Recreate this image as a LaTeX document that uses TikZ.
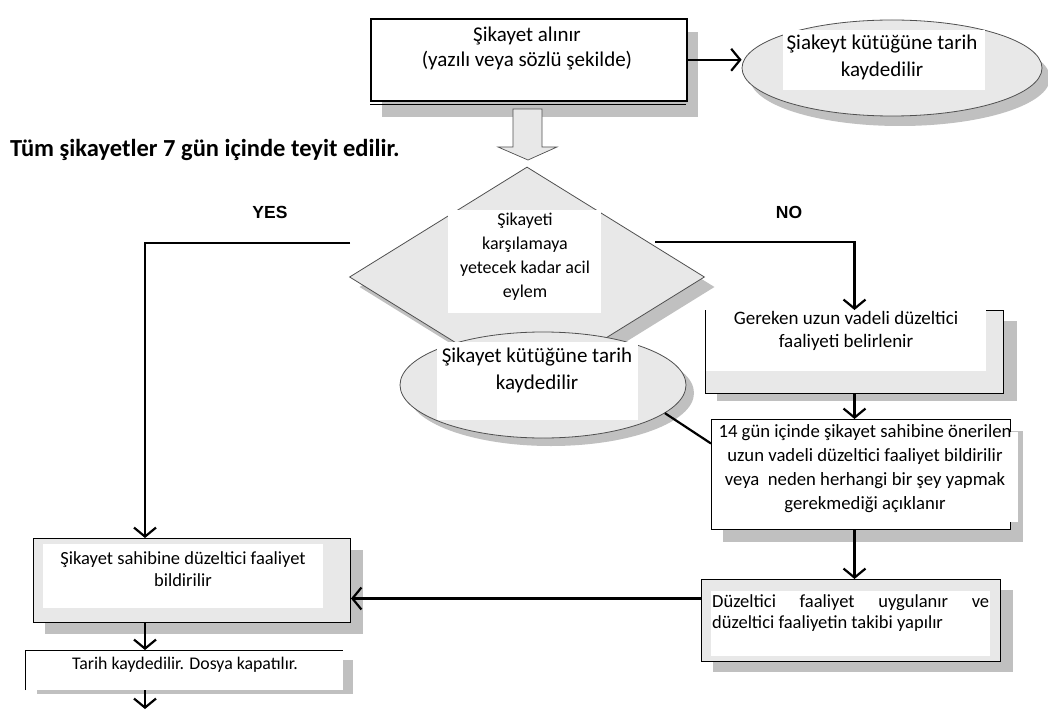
\documentclass[tikz,border=0pt]{standalone}
\usepackage{fontspec}
\setmainfont{Carlito}
\newfontfamily\arialf{Liberation Sans}
\usetikzlibrary{arrows.meta,shapes.geometric}
\definecolor{shd}{HTML}{C0C0C0}
\definecolor{lgr}{HTML}{E8E8E8}
\definecolor{edg}{HTML}{505050}
\begin{document}
\begin{tikzpicture}[x=1pt,y=-1pt,
  arr/.style={line width=2.2pt,-{Straight Barb[length=9pt,width=22pt,line width=2.2pt]}},
  conn/.style={line width=2.2pt},
  txt/.style={align=center,inner sep=0pt,font=\fontsize{21}{26}\selectfont},
  stxt/.style={align=center,inner sep=0pt,font=\fontsize{18.5}{22}\selectfont},
  box/.style={draw,line width=1pt,inner sep=0pt,anchor=north west},
  shadowfill/.style={fill=shd},
  ell/.style={ellipse,draw=edg,line width=0.8pt,fill=lgr,inner sep=0pt},
  lbl/.style={font=\arialf\bfseries\fontsize{17.5}{19}\selectfont,inner sep=0pt}]
\useasboundingbox[fill=white] (0,0) rectangle (1048,711);

% --- top box
\fill[shadowfill] (382,32) rectangle (698,117);
\node[box,line width=1.6pt,fill=white,minimum width=316pt,minimum height=82pt] (recv) at (370,18) {};
\draw[line width=0.6pt] (370,104) -- (686,104);
\node[txt,font=\fontsize{21}{25}\selectfont] (recvT) at (527,48) {Şikayet alınır\\(yazılı veya sözlü şekilde)};

% --- top ellipse
\node[ellipse,fill=shd,minimum width=300pt,minimum height=96pt] (e1s) at (900,78) {};
\node[ell,minimum width=300pt,minimum height=96pt] (e1) at (892,68) {};
\fill[white] (783,30) rectangle (985,90);
\node[txt,font=\fontsize{21}{27}\selectfont] (e1T) at (882,57) {Şiakeyt kütüğüne tarih\\kaydedilir};
\draw[arr] (recv.east) -- (recv.east -| e1.west);

% --- block arrow
\draw[edg,fill=lgr,line width=0.7pt] (513,109) -- (542,109) -- (542,147) -- (557,147) -- (528,160) -- (498,147) -- (513,147) -- cycle;

% --- heading
\node[anchor=west,inner sep=0pt,font=\bfseries\fontsize{24.5}{26}\selectfont] (head) at (10,150) {Tüm şikayetler 7 gün içinde teyit edilir.};

% --- decision diamond
\node[diamond,fill=shd,minimum width=355pt,minimum height=220pt,inner sep=0pt] (decs) at (537,287) {};
\node[diamond,draw=edg,line width=0.8pt,fill=lgr,minimum width=355pt,minimum height=220pt,inner sep=0pt] (dec) at (527,277) {};
\fill[white] (448,210) rectangle (601,313);
\node[txt,font=\fontsize{18}{24}\selectfont] (decT) at (525,257) {Şikayeti\\karşılamaya\\yetecek kadar acil\\eylem};

% --- labels
\node[lbl] (yes) at (270,212) {YES};
\node[lbl] (no) at (789,212) {NO};

% --- lower ellipse
\node[ellipse,fill=shd,minimum width=286pt,minimum height=106pt] (e2s) at (551,393) {};
\node[ell,minimum width=286pt,minimum height=106pt] (e2) at (543,385) {};
\fill[white] (437,342) rectangle (638,420);
\node[txt,font=\fontsize{21}{27}\selectfont] (e2T) at (537,370) {Şikayet kütüğüne tarih\\kaydedilir};

% --- Gereken box
\fill[shadowfill] (717,321) rectangle (1017,401);
\node[box,fill=lgr,minimum width=298pt,minimum height=83pt] (ger) at (705,310) {};
\fill[white] (706,309) rectangle (986,371);
\node[txt,font=\fontsize{19}{23}\selectfont] (gerT) at (846,331) {Gereken uzun vadeli düzeltici\\faaliyeti belirlenir};

% --- 14 gun box
\fill[shadowfill] (723,431) rectangle (1023,542);
\node[box,fill=white,minimum width=299pt,minimum height=110pt] (g14) at (711,419) {};
\fill[white] (712,432) rectangle (1018,522);
\node[txt,font=\fontsize{18.7}{24}\selectfont] (g14T) at (865,469) {14 gün içinde şikayet sahibine önerilen\\uzun vadeli düzeltici faaliyet bildirilir\\veya~ neden herhangi bir şey yapmak\\gerekmediği açıklanır};

% --- Duzeltici box
\fill[shadowfill] (713,590) rectangle (1013,672);
\node[box,fill=lgr,minimum width=299pt,minimum height=82pt] (duz) at (701,579) {};
\fill[white] (711,591) rectangle (990,656);
\node[anchor=north west,inner sep=0pt,text width=277pt,align=justify,font=\fontsize{18.5}{21}\selectfont] (duzT) at (712,594) {Düzeltici faaliyet uygulanır ve\linebreak düzeltici faaliyetin takibi yapılır};

% --- Sikayet sahibine box
\fill[shadowfill] (45,550) rectangle (363,634);
\node[box,fill=lgr,minimum width=317pt,minimum height=84pt] (sahip) at (33,538) {};
\fill[white] (43,544) rectangle (323,608);
\node[stxt] (sahipT) at (183,569) {Şikayet sahibine düzeltici faaliyet\\bildirilir};

% --- Tarih box
\fill[shadowfill] (37,660) rectangle (353,694);
\fill[white] (25,650) rectangle (343,690);
\draw[line width=0.8pt] (25,690) -- (25,650) -- (343,650);
\node[inner sep=0pt,minimum width=318pt,minimum height=40pt,anchor=north west] (tarih) at (25,650) {};
\node[stxt,font=\fontsize{17.8}{22}\selectfont] (tarihT) at (185,665) {Tarih kaydedilir. Dosya kapatılır.};

% --- connectors
\coordinate (yesS) at (350,243);
\coordinate (yesE) at (145,538);
\draw[arr] (yesS) -| (yesE);
\coordinate (noS) at (655,242);
\draw[arr] (noS) -| (ger.north);
\draw[arr] (ger.south) -- (ger.south |- g14.north);
\draw[conn] (e2.-13) -- ([yshift=31pt]g14.west);
\draw[arr] (g14.south -| ger.south) -- (ger.south |- duz.north);
\draw[arr] ([yshift=22pt]duz.west) -- ([yshift=22pt]duz.west -| sahip.east);
\draw[arr] (yesE |- sahip.south) -- (yesE |- tarih.north);
\coordinate (endA) at (145,709);
\draw[arr] (yesE |- tarih.south) -- (endA);
\end{tikzpicture}
\end{document}
